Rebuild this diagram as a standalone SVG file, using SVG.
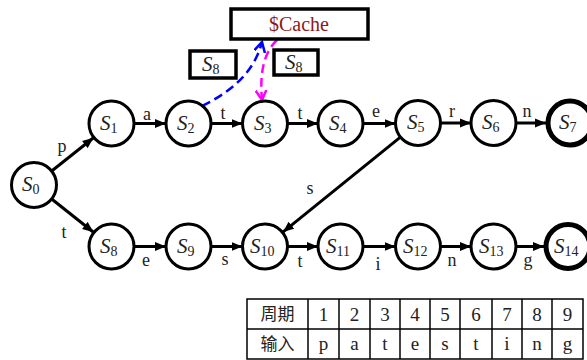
<svg xmlns="http://www.w3.org/2000/svg" width="587" height="360" viewBox="0 0 587 360">
<style>
.n{fill:#fff;stroke:#000;stroke-width:3}
.f{fill:#fff;stroke:#000;stroke-width:5}
.s{font-family:'Liberation Serif','Times New Roman','DejaVu Serif',serif;font-style:italic;font-size:21px;fill:#222}
.sub{font-style:normal;font-size:14px}
.e{stroke:#000;stroke-width:3;fill:none;marker-end:url(#ah)}
.l{font-family:'Liberation Serif','Times New Roman','DejaVu Serif',serif;font-size:18px;fill:#222;text-anchor:middle}
.box{fill:#fff;stroke:#000;stroke-width:3.5}
.t{font-family:'Liberation Serif','Times New Roman','DejaVu Serif',serif;font-size:19px;fill:#222;text-anchor:middle}
.c{font-family:'Noto Sans CJK SC',sans-serif;font-size:17px;fill:#222;text-anchor:middle}
.g{stroke:#000;stroke-width:1.5;fill:none}
</style>
<defs>
<marker id="ah" markerUnits="userSpaceOnUse" markerWidth="12" markerHeight="10" refX="11" refY="5" orient="auto"><path d="M0,0.5 L11,5 L0,9.5 Z" fill="#000"/></marker>
<marker id="ab" markerUnits="userSpaceOnUse" markerWidth="12" markerHeight="12" refX="10" refY="6" orient="auto"><path d="M0,0.5 L10,6 L0,11.5" fill="none" stroke="#0000ff" stroke-width="2.5"/></marker>
<marker id="am" markerUnits="userSpaceOnUse" markerWidth="12" markerHeight="12" refX="10" refY="6" orient="auto"><path d="M0,0.5 L10,6 L0,11.5" fill="none" stroke="#ff00ff" stroke-width="2.5"/></marker>
</defs>
<g id="connectors">
<line class="e" x1="52" y1="170.7" x2="93.5" y2="137.8"/>
<line class="e" x1="52" y1="199.3" x2="93.5" y2="232.2"/>
<line class="e" x1="134" y1="123.5" x2="166" y2="123.5"/>
<line class="e" x1="211" y1="123.5" x2="242.5" y2="123.5"/>
<line class="e" x1="287.5" y1="123.5" x2="318" y2="123.5"/>
<line class="e" x1="363" y1="123.5" x2="395.5" y2="123.5"/>
<line class="e" x1="440.5" y1="123" x2="471" y2="123"/>
<line class="e" x1="516" y1="123" x2="546" y2="123"/>
<line class="e" x1="134" y1="246.5" x2="166" y2="246.5"/>
<line class="e" x1="211" y1="246.5" x2="242.5" y2="246.5"/>
<line class="e" x1="287.5" y1="246.5" x2="318" y2="246.5"/>
<line class="e" x1="363" y1="246.5" x2="395.5" y2="246.5"/>
<line class="e" x1="440.5" y1="246.5" x2="471" y2="246.5"/>
<line class="e" x1="516" y1="246.5" x2="544" y2="246.5"/>
<line class="e" x1="400.1" y1="137.4" x2="282.9" y2="232.1"/>
<text class="l" x="62" y="152">p</text>
<text class="l" x="64" y="238">t</text>
<text class="l" x="147" y="120">a</text>
<text class="l" x="223" y="119">t</text>
<text class="l" x="300" y="119">t</text>
<text class="l" x="376" y="117">e</text>
<text class="l" x="452" y="117">r</text>
<text class="l" x="527" y="117">n</text>
<text class="l" x="146" y="266">e</text>
<text class="l" x="225" y="265">s</text>
<text class="l" x="300" y="267">t</text>
<text class="l" x="378" y="270">i</text>
<text class="l" x="452" y="266">n</text>
<text class="l" x="528" y="266">g</text>
<text class="l" x="310" y="194">s</text>
<path d="M202,106 Q252,82 262,42" fill="none" stroke="#0000ff" stroke-width="2.5" stroke-dasharray="9,5" marker-end="url(#ab)"/>
<path d="M277,40 Q258,58 262,100" fill="none" stroke="#ff00ff" stroke-width="2.5" stroke-dasharray="9,5" marker-end="url(#am)"/>
</g>
<g id="cache"><rect class="box" x="231" y="9" width="137" height="30"/><text class="t" x="299" y="31" style="fill:#8b1a1a;font-size:20px">$Cache</text></g>
<g id="s8a"><rect class="box" x="190" y="51" width="46" height="27"/><text class="s" x="202" y="71">S<tspan class="sub" dy="3">8</tspan></text></g>
<g id="s8b"><rect class="box" x="274" y="50" width="44" height="25"/><text class="s" x="285" y="69">S<tspan class="sub" dy="3">8</tspan></text></g>
<g id="S0"><circle class="n" cx="34" cy="185" r="22.5"/><text class="s" x="22" y="191">S<tspan class="sub" dy="3">0</tspan></text></g>
<g id="S1"><circle class="n" cx="111.5" cy="123.5" r="22.5"/><text class="s" x="100" y="130">S<tspan class="sub" dy="3">1</tspan></text></g>
<g id="S2"><circle class="n" cx="188.5" cy="123.5" r="22.5"/><text class="s" x="177" y="130">S<tspan class="sub" dy="3">2</tspan></text></g>
<g id="S3"><circle class="n" cx="265" cy="123.5" r="22.5"/><text class="s" x="254" y="130">S<tspan class="sub" dy="3">3</tspan></text></g>
<g id="S4"><circle class="n" cx="340.5" cy="123.5" r="22.5"/><text class="s" x="329" y="130">S<tspan class="sub" dy="3">4</tspan></text></g>
<g id="S5"><circle class="n" cx="418" cy="123" r="22.5"/><text class="s" x="407" y="129">S<tspan class="sub" dy="3">5</tspan></text></g>
<g id="S6"><circle class="n" cx="493.5" cy="123" r="22.5"/><text class="s" x="482" y="129">S<tspan class="sub" dy="3">6</tspan></text></g>
<g id="S7"><circle class="f" cx="570" cy="123" r="22"/><text class="s" x="559" y="129">S<tspan class="sub" dy="3">7</tspan></text></g>
<g id="S8"><circle class="n" cx="111.5" cy="246.5" r="22.5"/><text class="s" x="100" y="253">S<tspan class="sub" dy="3">8</tspan></text></g>
<g id="S9"><circle class="n" cx="188.5" cy="246.5" r="22.5"/><text class="s" x="177" y="253">S<tspan class="sub" dy="3">9</tspan></text></g>
<g id="S10"><circle class="n" cx="265" cy="246.5" r="22.5"/><text class="s" x="250" y="253">S<tspan class="sub" dy="3">10</tspan></text></g>
<g id="S11"><circle class="n" cx="340.5" cy="246.5" r="22.5"/><text class="s" x="326" y="253">S<tspan class="sub" dy="3">11</tspan></text></g>
<g id="S12"><circle class="n" cx="418" cy="246.5" r="22.5"/><text class="s" x="403" y="253">S<tspan class="sub" dy="3">12</tspan></text></g>
<g id="S13"><circle class="n" cx="493.5" cy="246.5" r="22.5"/><text class="s" x="479" y="253">S<tspan class="sub" dy="3">13</tspan></text></g>
<g id="S14"><circle class="f" cx="568" cy="246.5" r="22"/><text class="s" x="554" y="253">S<tspan class="sub" dy="3">14</tspan></text></g>
<g id="table">
<rect class="g" x="247" y="299" width="336" height="60"/>
<line class="g" x1="247" y1="329" x2="583" y2="329"/>
<line class="g" x1="308" y1="299" x2="308" y2="359"/>
<line class="g" x1="339" y1="299" x2="339" y2="359"/>
<line class="g" x1="370" y1="299" x2="370" y2="359"/>
<line class="g" x1="400" y1="299" x2="400" y2="359"/>
<line class="g" x1="430" y1="299" x2="430" y2="359"/>
<line class="g" x1="460" y1="299" x2="460" y2="359"/>
<line class="g" x1="492" y1="299" x2="492" y2="359"/>
<line class="g" x1="522" y1="299" x2="522" y2="359"/>
<line class="g" x1="552" y1="299" x2="552" y2="359"/>
<text class="c" x="277.5" y="320">周期</text>
<text class="c" x="277.5" y="350">输入</text>
<text class="t" x="323.5" y="321">1</text><text class="t" x="354.5" y="321">2</text><text class="t" x="385" y="321">3</text><text class="t" x="415" y="321">4</text><text class="t" x="445" y="321">5</text><text class="t" x="476" y="321">6</text><text class="t" x="507" y="321">7</text><text class="t" x="537" y="321">8</text><text class="t" x="567.5" y="321">9</text>
<text class="t" x="323.5" y="350">p</text><text class="t" x="354.5" y="350">a</text><text class="t" x="385" y="350">t</text><text class="t" x="415" y="350">e</text><text class="t" x="445" y="350">s</text><text class="t" x="476" y="350">t</text><text class="t" x="507" y="350">i</text><text class="t" x="537" y="350">n</text><text class="t" x="567.5" y="350">g</text>
</g>
</svg>
